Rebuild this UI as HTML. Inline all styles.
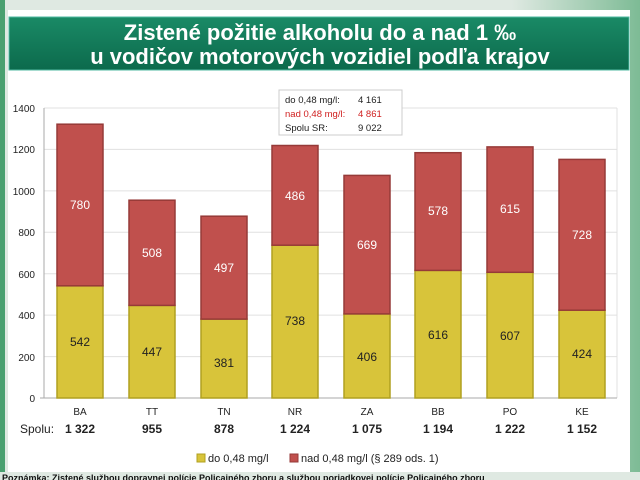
<!DOCTYPE html>
<html><head><meta charset="utf-8"><style>
html,body{margin:0;padding:0;width:640px;height:480px;overflow:hidden;font-family:"Liberation Sans",sans-serif}
</style></head><body>
<svg width="640" height="480" style="position:absolute;left:0;top:0" font-family="Liberation Sans, sans-serif">
<defs>
<linearGradient id="tb" x1="0" y1="0" x2="0" y2="1"><stop offset="0" stop-color="#1a8a66"/><stop offset="1" stop-color="#0c6a4c"/></linearGradient>
<linearGradient id="bg" x1="0" y1="0" x2="1" y2="0"><stop offset="0" stop-color="#dfe9e2"/><stop offset="0.8" stop-color="#dfe9e2"/><stop offset="1" stop-color="#7dbb95"/></linearGradient>
</defs>
<rect x="0" y="0" width="640" height="480" fill="url(#bg)"/>
<rect x="0" y="0" width="5" height="480" fill="#4aa070"/>
<rect x="8" y="10" width="622" height="462" fill="#ffffff"/>
<rect x="9" y="17" width="620" height="53" fill="url(#tb)" stroke="#4fb8a0" stroke-width="1"/>
<text x="320" y="40" fill="#fff" font-size="22" font-weight="bold" text-anchor="middle">Zistené požitie alkoholu do a nad 1 ‰</text>
<text x="320" y="64" fill="#fff" font-size="22" font-weight="bold" text-anchor="middle">u vodičov motorových vozidiel podľa krajov</text>
<g stroke="#e0e0e0" stroke-width="1">
<line x1="44" y1="108" x2="617" y2="108"/><line x1="44" y1="149.4" x2="617" y2="149.4"/><line x1="44" y1="190.9" x2="617" y2="190.9"/><line x1="44" y1="232.3" x2="617" y2="232.3"/><line x1="44" y1="273.7" x2="617" y2="273.7"/><line x1="44" y1="315.1" x2="617" y2="315.1"/><line x1="44" y1="356.6" x2="617" y2="356.6"/>
<line x1="617" y1="108" x2="617" y2="398"/>
</g>
<g stroke="#aaa"><line x1="44" y1="108" x2="44" y2="398"/><line x1="40" y1="398" x2="617" y2="398"/></g>
<g font-size="10" fill="#222" text-anchor="end">
<text x="35" y="112">1400</text><text x="35" y="153">1200</text><text x="35" y="195">1000</text><text x="35" y="236">800</text><text x="35" y="278">600</text><text x="35" y="319">400</text><text x="35" y="361">200</text><text x="35" y="402">0</text>
</g>
<g font-size="12" text-anchor="middle" stroke-width="1.5">
<rect x="57" y="285.8" width="46" height="112.2" fill="#d8c43a" stroke="#b0a020"/>
<rect x="57" y="124.2" width="46" height="161.6" fill="#c0504d" stroke="#963a38"/>
<text x="80" y="346" fill="#222">542</text><text x="80" y="209" fill="#fff">780</text>
<rect x="129" y="305.4" width="46" height="92.6" fill="#d8c43a" stroke="#b0a020"/>
<rect x="129" y="200.2" width="46" height="105.2" fill="#c0504d" stroke="#963a38"/>
<text x="152" y="356" fill="#222">447</text><text x="152" y="257" fill="#fff">508</text>
<rect x="201" y="319.1" width="46" height="78.9" fill="#d8c43a" stroke="#b0a020"/>
<rect x="201" y="216.2" width="46" height="102.9" fill="#c0504d" stroke="#963a38"/>
<text x="224" y="367" fill="#222">381</text><text x="224" y="272" fill="#fff">497</text>
<rect x="272" y="245.2" width="46" height="152.8" fill="#d8c43a" stroke="#b0a020"/>
<rect x="272" y="145.5" width="46" height="99.7" fill="#c0504d" stroke="#963a38"/>
<text x="295" y="325" fill="#222">738</text><text x="295" y="200" fill="#fff">486</text>
<rect x="344" y="313.9" width="46" height="84.1" fill="#d8c43a" stroke="#b0a020"/>
<rect x="344" y="175.4" width="46" height="138.5" fill="#c0504d" stroke="#963a38"/>
<text x="367" y="361" fill="#222">406</text><text x="367" y="249" fill="#fff">669</text>
<rect x="415" y="270.4" width="46" height="127.6" fill="#d8c43a" stroke="#b0a020"/>
<rect x="415" y="152.7" width="46" height="117.7" fill="#c0504d" stroke="#963a38"/>
<text x="438" y="339" fill="#222">616</text><text x="438" y="215" fill="#fff">578</text>
<rect x="487" y="272.3" width="46" height="125.7" fill="#d8c43a" stroke="#b0a020"/>
<rect x="487" y="146.9" width="46" height="125.4" fill="#c0504d" stroke="#963a38"/>
<text x="510" y="340" fill="#222">607</text><text x="510" y="213" fill="#fff">615</text>
<rect x="559" y="310.2" width="46" height="87.8" fill="#d8c43a" stroke="#b0a020"/>
<rect x="559" y="159.4" width="46" height="150.8" fill="#c0504d" stroke="#963a38"/>
<text x="582" y="358" fill="#222">424</text><text x="582" y="239" fill="#fff">728</text>
</g>
<g font-size="10" fill="#222" text-anchor="middle">
<text x="80" y="415">BA</text><text x="152" y="415">TT</text><text x="224" y="415">TN</text><text x="295" y="415">NR</text><text x="367" y="415">ZA</text><text x="438" y="415">BB</text><text x="510" y="415">PO</text><text x="582" y="415">KE</text>
</g>
<text x="20" y="433" font-size="12" fill="#222">Spolu:</text>
<g font-size="12" font-weight="bold" fill="#222" text-anchor="middle">
<text x="80" y="433">1 322</text><text x="152" y="433">955</text><text x="224" y="433">878</text><text x="295" y="433">1 224</text><text x="367" y="433">1 075</text><text x="438" y="433">1 194</text><text x="510" y="433">1 222</text><text x="582" y="433">1 152</text>
</g>
<rect x="197" y="454" width="8" height="8" fill="#d8c43a" stroke="#b0a020"/>
<text x="208" y="462" font-size="11" fill="#222">do 0,48 mg/l</text>
<rect x="290" y="454" width="8" height="8" fill="#c0504d" stroke="#963a38"/>
<text x="301" y="462" font-size="11" fill="#222">nad 0,48 mg/l (§ 289 ods. 1)</text>
<rect x="279" y="90" width="123" height="45" fill="#fff" stroke="#ccc"/>
<g font-size="9.5">
<text x="285" y="103" fill="#222">do 0,48 mg/l:</text><text x="358" y="103" fill="#222">4 161</text>
<text x="285" y="117" fill="#d02020">nad 0,48 mg/l:</text><text x="358" y="117" fill="#d02020">4 861</text>
<text x="285" y="131" fill="#222">Spolu SR:</text><text x="358" y="131" fill="#222">9 022</text>
</g>
<rect x="0" y="472" width="640" height="8" fill="#dfe9e2"/>
<text x="2" y="481" font-size="9" font-weight="bold" fill="#111">Poznámka: Zistené službou dopravnej polície Policajného zboru a službou poriadkovej polície Policajného zboru</text>
</svg>
</body></html>
